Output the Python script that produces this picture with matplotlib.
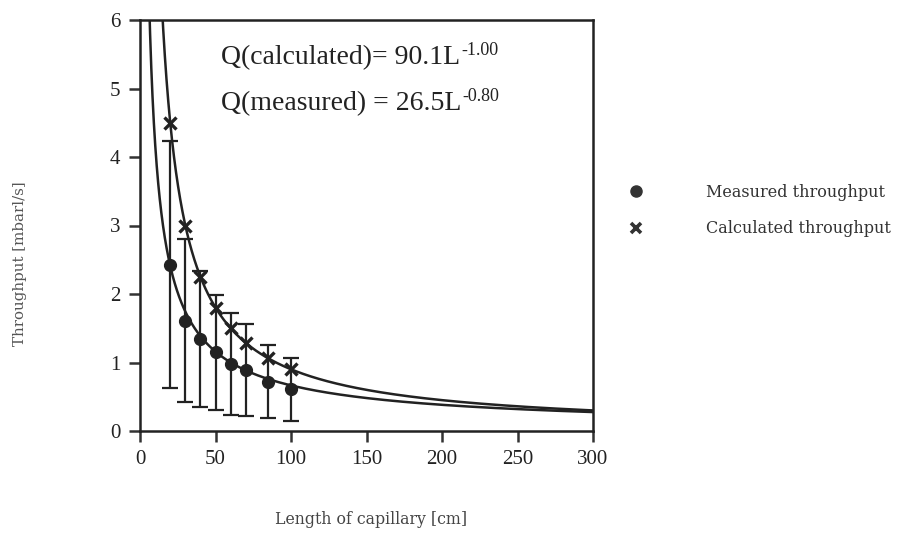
import numpy as np
import matplotlib
matplotlib.use("Agg")
import matplotlib.pyplot as plt
from matplotlib.lines import Line2D

# ---- data ----
length_cm = [20, 30, 40, 50, 60, 70, 85, 100]
measured = [2.43, 1.61, 1.34, 1.15, 0.98, 0.89, 0.72, 0.61]
measured_err = [1.80, 1.19, 0.99, 0.84, 0.74, 0.67, 0.53, 0.46]
calculated = [4.50, 3.00, 2.25, 1.80, 1.50, 1.29, 1.06, 0.90]

fit_calc_coef, fit_calc_exp = 90.1, -1.00
fit_meas_coef, fit_meas_exp = 26.5, -0.80

x_ticks = [0, 50, 100, 150, 200, 250, 300]
y_ticks = [0, 1, 2, 3, 4, 5, 6]

eq_main = ["Q(calculated)= 90.1L", "Q(measured) = 26.5L"]
eq_sup = ["-1.00", "-0.80"]

serif_t = ["Liberation Serif", "DejaVu Serif"]
serif_d = ["DejaVu Serif"]
ink = "#222222"

fig = plt.figure(figsize=(8.98, 5.37), dpi=100)
ax = fig.add_axes([140 / 898, 1 - 431 / 537, (593 - 140) / 898, (431 - 20) / 537])

L = np.linspace(1, 300, 3000)
ax.plot(L, fit_calc_coef * L ** fit_calc_exp, color=ink, lw=1.8, zorder=2)
ax.plot(L, fit_meas_coef * L ** fit_meas_exp, color=ink, lw=1.8, zorder=2)

ax.errorbar(length_cm, measured, yerr=measured_err, fmt="none", ecolor=ink,
            elinewidth=1.6, capsize=5.5, capthick=1.6, zorder=3)
ax.plot(length_cm, measured, "o", color=ink, ms=8.5, zorder=4)
ax.plot(length_cm, calculated, "x", color=ink, ms=8, mew=2.4, zorder=4)

ax.set_xlim(0, 300)
ax.set_ylim(0, 6)
ax.set_xticks(x_ticks)
ax.set_yticks(y_ticks)
for lab in ax.get_xticklabels() + ax.get_yticklabels():
    lab.set_family(serif_t)
    lab.set_fontsize(15)
    lab.set_color(ink)
ax.tick_params(axis="both", direction="out", length=8, width=1.8, color="#333333")
ax.tick_params(axis="x", pad=6)
ax.tick_params(axis="y", pad=6)
for s in ax.spines.values():
    s.set_linewidth(1.8)
    s.set_color(ink)

# equations: main text on baseline, superscript placed right after it
eq_x = 53.6
eq_y = [5.353, 4.686]
main_texts = []
for txt, yy in zip(eq_main, eq_y):
    main_texts.append(ax.text(eq_x, yy, txt, fontsize=20, family=serif_t, color=ink,
                              va="baseline", ha="left"))
fig.canvas.draw()
renderer = fig.canvas.get_renderer()
inv = fig.transFigure.inverted()
for t, sup, yy in zip(main_texts, eq_sup, eq_y):
    bb = t.get_window_extent(renderer)
    base = ax.transData.transform((eq_x, yy))[1]
    fx, fy = inv.transform((bb.x1 + 1, base + 9.5))
    fig.text(fx, fy, sup, fontsize=13, family=serif_t, color=ink,
             va="baseline", ha="left")

fig.text(371 / 898, 1 - 520 / 537, "Length of capillary [cm]", family=serif_d,
         fontsize=11.3, color="#444444", ha="center", va="center")
fig.text(20 / 898, 1 - 264 / 537, "Throughput [mbarl/s]", family=serif_d,
         fontsize=10.8, color="#555555", ha="center", va="center", rotation=90)

handles = [Line2D([], [], ls="none", marker="o", color="#333333", ms=8),
           Line2D([], [], ls="none", marker="x", color="#333333", ms=7, mew=2.6)]
labels = ["Measured throughput", "Calculated throughput"]
fig.legend(handles, labels, loc="upper left", bbox_to_anchor=(628 / 898, 1 - 184 / 537),
           frameon=False, borderpad=0, borderaxespad=0, handlelength=1.0,
           handletextpad=3.9, labelspacing=1.2,
           prop={"family": serif_d, "size": 11.5})
for t in fig.legends[0].get_texts():
    t.set_color("#333333")

fig.savefig("out.png", dpi=100)
